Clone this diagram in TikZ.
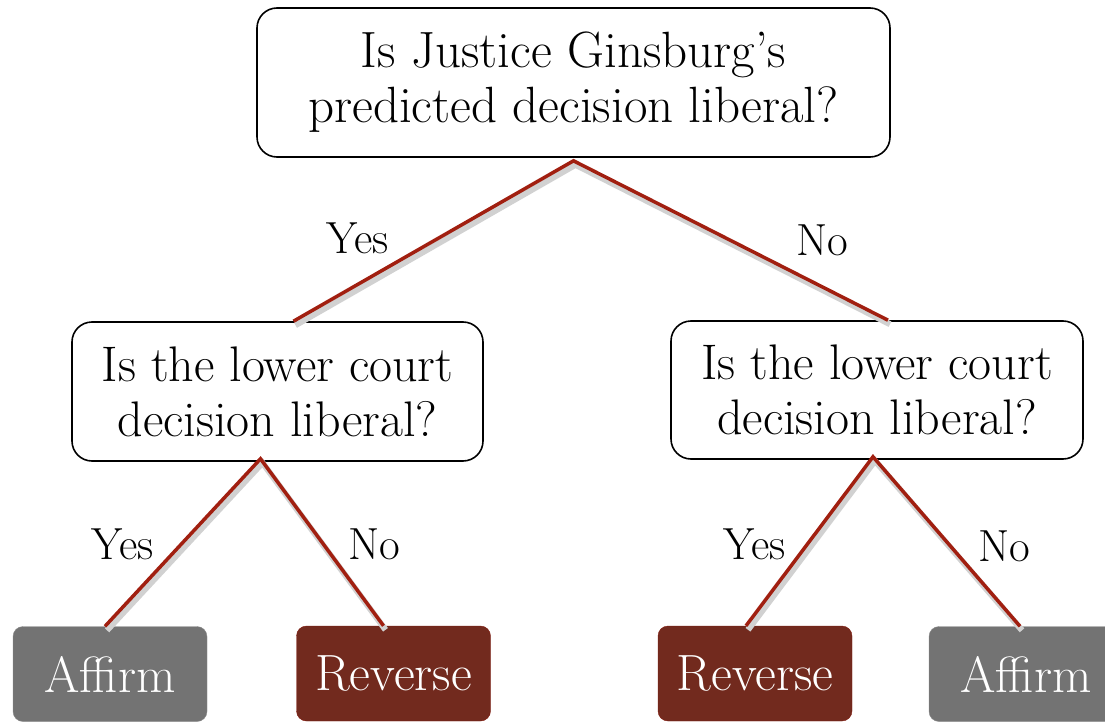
\documentclass[tikz,border=0pt]{standalone}
\usepackage{fontspec}
\usetikzlibrary{positioning}

\definecolor{branchred}{HTML}{A11F10}
\definecolor{leafred}{HTML}{722A1E}
\definecolor{leafgray}{HTML}{737373}

\tikzset{
  question/.style={draw=black, line width=1.6pt, rounded corners=20pt, fill=white,
    align=center, inner sep=0pt},
  leaf/.style={rounded corners=10pt, text=white, inner sep=0pt,
    minimum width=194pt, minimum height=95pt,
    font=\fontsize{51}{55}\selectfont},
  branch/.style={draw=branchred, line width=3.5pt,
    preaction={draw=black!18, line width=6pt,
      transform canvas={shift={(2pt,-4pt)}}}},
  answer/.style={font=\fontsize{45}{50}\selectfont}
}

\begin{document}
\begin{tikzpicture}[x=1pt,y=-1pt]
  \useasboundingbox (0,0) rectangle (1105,722);

  % Question boxes
  \node[question, minimum width=633pt, minimum height=149pt,
        font=\fontsize{51}{55}\selectfont] (top) at (573.5,82.5)
        {Is Justice Ginsburg's\\predicted decision liberal?};
  \node[question, minimum width=411pt, minimum height=139pt,
        font=\fontsize{50}{55}\selectfont] (lq) at (277.5,391.5)
        {Is the lower court\\decision liberal?};
  \node[question, minimum width=412pt, minimum height=138pt,
        font=\fontsize{50}{55}\selectfont] (rq) at (877,390)
        {Is the lower court\\decision liberal?};

  % Outcomes
  \node[leaf, fill=leafgray, draw=black!45] (aff1) at (110,674) {Affirm};
  \node[leaf, fill=leafred, draw=branchred!80!black] (rev1) at (393.5,673.5) {Reverse};
  \node[leaf, fill=leafred, draw=branchred!80!black] (rev2) at (755,673.5) {Reverse};
  \node[leaf, fill=leafgray, draw=black!45] (aff2) at (1026,674) {Affirm};

  % Branches
  \draw[branch] ([xshift=16pt]lq.north) -- ([yshift=-3pt]top.south)
                -- ([xshift=11pt]rq.north);
  \draw[branch] ([xshift=-5pt]aff1.north) -- ([xshift=-17pt,yshift=3pt]lq.south)
                -- ([xshift=-10pt]rev1.north);
  \draw[branch] ([xshift=-9pt]rev2.north) -- ([xshift=-4pt,yshift=3pt]rq.south)
                -- ([xshift=-6pt]aff2.north);

  % Yes / No labels
  \node[answer] (y0) at (358,238) {Yes};
  \node[answer] (n0) at (822,240) {No};
  \node[answer] (y1) at (123,544) {Yes};
  \node[answer] (n1) at (374,544) {No};
  \node[answer] (y2) at (755,544) {Yes};
  \node[answer] (n2) at (1004,546) {No};
\end{tikzpicture}
\end{document}
